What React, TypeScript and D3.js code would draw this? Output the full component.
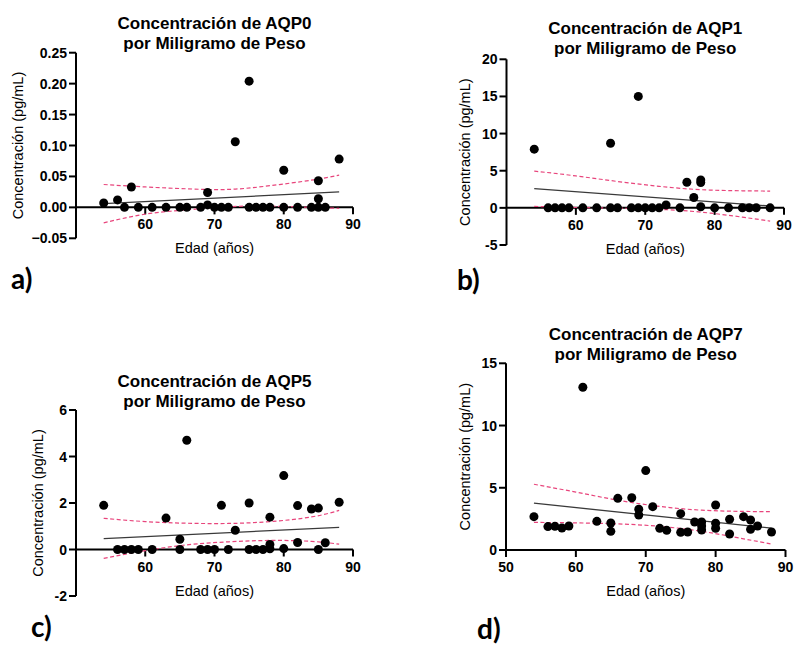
import React from "react";
import * as d3 from "d3";

// valores: edad (años) y concentración por mg de peso
const agesA = [54, 56, 57, 58, 59, 61, 63, 65, 66, 68, 69, 69, 70, 71, 72, 73, 75, 75, 76, 77, 78, 80, 80, 82, 84, 85, 85, 85, 86, 88];
const valuesA = [0.007, 0.012, 0, 0.033, 0, 0, 0, 0, 0, 0, 0.024, 0.004, 0, 0, 0, 0.106, 0.204, 0, 0, 0, 0, 0.06, 0, 0, 0, 0.043, 0.014, 0, 0, 0.078];

const agesB = [54, 56, 57, 58, 59, 61, 63, 65, 65, 66, 68, 69, 69, 70, 71, 72, 73, 75, 76, 77, 78, 78, 78, 80, 82, 84, 85, 86, 88];
const valuesB = [7.9, 0, 0, 0, 0, 0, 0, 8.7, 0, 0, 0, 15.0, 0, 0, 0, 0, 0.4, 0, 3.45, 1.4, 3.75, 3.4, 0.15, 0, 0, 0, 0, 0, 0];

const agesC = [54, 56, 57, 58, 59, 61, 63, 65, 65, 66, 68, 69, 70, 71, 72, 73, 75, 75, 76, 77, 78, 78, 78, 80, 80, 82, 82, 84, 85, 85, 86, 88];
const valuesC = [1.9, 0, 0, 0, 0, 0, 1.35, 0.44, 0, 4.7, 0, 0, 0, 1.9, 0, 0.83, 2.0, 0, 0, 0, 1.39, 0.22, 0.03, 3.18, 0.04, 1.89, 0.3, 1.74, 1.78, 0, 0.29, 2.03];

const agesD = [54, 56, 57, 58, 59, 61, 63, 65, 65, 66, 68, 69, 69, 70, 71, 72, 73, 75, 75, 76, 77, 78, 78, 78, 80, 80, 80, 82, 82, 84, 85, 85, 86, 88];
const valuesD = [2.68, 1.88, 1.9, 1.77, 1.93, 13.08, 2.3, 2.17, 1.5, 4.15, 4.2, 3.27, 2.81, 6.38, 3.48, 1.74, 1.58, 2.92, 1.42, 1.45, 2.25, 2.25, 1.93, 1.61, 3.62, 2.15, 1.75, 2.47, 1.29, 2.68, 2.41, 1.66, 1.93, 1.45];

// regresión lineal y banda de confianza (leídas)
const fitAges = [54, 88];
const fitA = [0.006, 0.025];
const fitB = [2.58, 0.25];
const fitC = [0.47, 0.95];
const fitD = [3.76, 1.76];

const bandAges = [54, 60, 66, 72, 78, 84, 88];
const upperA = [0.037, 0.033, 0.03, 0.029, 0.035, 0.044, 0.052];
const lowerA = [-0.025, -0.011, -0.004, 0.001, 0.002, 0.0, -0.0016];
const upperB = [4.95, 4.3, 3.55, 2.9, 2.45, 2.3, 2.26];
const lowerB = [0.2, 0.05, -0.03, -0.2, -0.57, -1.25, -1.78];
const upperC = [1.34, 1.2, 1.13, 1.12, 1.2, 1.4, 1.68];
const lowerC = [-0.38, -0.05, 0.2, 0.33, 0.39, 0.35, 0.23];
const upperD = [5.28, 4.65, 4.0, 3.5, 3.2, 3.1, 3.08];
const lowerD = [2.22, 2.18, 2.1, 1.9, 1.5, 0.9, 0.48];

const yTicksA = [-0.05, 0, 0.05, 0.1, 0.15, 0.2, 0.25];
const yTicksB = [-5, 0, 5, 10, 15, 20];
const yTicksC = [-2, 0, 2, 4, 6];
const yTicksD = [0, 5, 10, 15];
const xTicks = [60, 70, 80, 90];
const xTicksD = [50, 60, 70, 80, 90];

const titles = ["Concentración de AQP0", "Concentración de AQP1", "Concentración de AQP5", "Concentración de AQP7"];
const subtitle = "por Miligramo de Peso";
const letters = ["a)", "b)", "c)", "d)"];

const font = "'Liberation Sans', Arial, Helvetica, sans-serif";

type Box = { left: number; right: number; top: number; bottom: number };

type PanelProps = {
  box: Box;
  yDomain: [number, number];
  ages: number[];
  values: number[];
  fit: number[];
  upper: number[];
  lower: number[];
  yTicks: number[];
  xTicks: number[];
  yFormat: (v: number) => string;
  title: string;
  titleY: number;
  letter: string;
  letterPos: [number, number];
  yLabelOffset: number;
};

function Panel(p: PanelProps) {
  const { box } = p;
  const x = d3.scaleLinear().domain([50, 90]).range([box.left, box.right]);
  const y = d3.scaleLinear().domain(p.yDomain).range([box.bottom, box.top]);
  const zeroY = y(Math.max(0, p.yDomain[0]));
  const cx = (box.left + box.right) / 2;

  const straight = d3.line<[number, number]>().x((d) => x(d[0])).y((d) => y(d[1]));
  const smooth = d3
    .line<[number, number]>()
    .x((d) => x(d[0]))
    .y((d) => y(d[1]))
    .curve(d3.curveNatural);

  const fitPts = fitAges.map((a, i) => [a, p.fit[i]] as [number, number]);
  const upPts = bandAges.map((a, i) => [a, p.upper[i]] as [number, number]);
  const loPts = bandAges.map((a, i) => [a, p.lower[i]] as [number, number]);

  return (
    <g>
      {/* title */}
      <text x={cx} y={p.titleY} textAnchor="middle" fontFamily={font} fontWeight="bold" fontSize={17}>
        {p.title}
      </text>
      <text x={cx} y={p.titleY + 20} textAnchor="middle" fontFamily={font} fontWeight="bold" fontSize={17}>
        {subtitle}
      </text>

      {/* y axis */}
      <line x1={box.left} x2={box.left} y1={box.top} y2={box.bottom} stroke="#000" strokeWidth={2} />
      {p.yTicks.map((t) => (
        <g key={"y" + t}>
          <line x1={box.left - 7} x2={box.left} y1={y(t)} y2={y(t)} stroke="#000" strokeWidth={2} />
          <text x={box.left - 9} y={y(t)} dy="0.36em" textAnchor="end" fontFamily={font} fontWeight="bold" fontSize={14}>
            {p.yFormat(t)}
          </text>
        </g>
      ))}

      {/* x axis */}
      <line x1={box.left} x2={box.right} y1={zeroY} y2={zeroY} stroke="#000" strokeWidth={2} />
      {p.xTicks.map((t) => (
        <g key={"x" + t}>
          <line x1={x(t)} x2={x(t)} y1={zeroY} y2={zeroY + 7} stroke="#000" strokeWidth={2} />
          <text x={x(t)} y={zeroY + 22} textAnchor="middle" fontFamily={font} fontWeight="bold" fontSize={14}>
            {t}
          </text>
        </g>
      ))}

      {/* axis labels */}
      <text
        transform={`translate(${box.left - p.yLabelOffset},${(box.top + box.bottom) / 2}) rotate(-90)`}
        textAnchor="middle"
        fontFamily={font}
        fontSize={14.5}
      >
        Concentración (pg/mL)
      </text>
      <text x={cx} y={zeroY + 46} textAnchor="middle" fontFamily={font} fontSize={14.5}>
        Edad (años)
      </text>

      {/* confidence band + fit */}
      <path d={smooth(upPts) ?? ""} fill="none" stroke="#e8457c" strokeWidth={1.2} strokeDasharray="4 2.5" />
      <path d={smooth(loPts) ?? ""} fill="none" stroke="#e8457c" strokeWidth={1.2} strokeDasharray="4 2.5" />
      <path d={straight(fitPts) ?? ""} fill="none" stroke="#3a3a3a" strokeWidth={1.3} />

      {/* points */}
      {p.ages.map((a, i) => (
        <circle key={i} cx={x(a)} cy={y(p.values[i])} r={4.5} fill="#000" />
      ))}

      <text x={p.letterPos[0]} y={p.letterPos[1]} fontFamily="Lato, 'Open Sans', sans-serif" fontWeight="bold" fontSize={28}>
        {p.letter}
      </text>
    </g>
  );
}

const fmt2 = (v: number) => d3.format(".2f")(v);
const fmt0 = (v: number) => String(v);

export default function App() {
  return (
    <div style={{ position: "fixed", left: 0, top: 0 }}>
      <svg width={795} height={646} style={{ display: "block", background: "#fff" }}>
        <Panel
          box={{ left: 76, right: 353, top: 52.7, bottom: 238.3 }}
          yDomain={[-0.05, 0.25]}
          ages={agesA}
          values={valuesA}
          fit={fitA}
          upper={upperA}
          lower={lowerA}
          yTicks={yTicksA}
          xTicks={xTicks}
          yFormat={fmt2}
          title={titles[0]}
          titleY={29.3}
          letter={letters[0]}
          letterPos={[11, 289]}
          yLabelOffset={52.7}
        />
        <Panel
          box={{ left: 506.5, right: 784, top: 59.3, bottom: 245 }}
          yDomain={[-5, 20]}
          ages={agesB}
          values={valuesB}
          fit={fitB}
          upper={upperB}
          lower={lowerB}
          yTicks={yTicksB}
          xTicks={xTicks}
          yFormat={fmt0}
          title={titles[1]}
          titleY={34.3}
          letter={letters[1]}
          letterPos={[457, 290]}
          yLabelOffset={36.5}
        />
        <Panel
          box={{ left: 76, right: 353, top: 410, bottom: 596 }}
          yDomain={[-2, 6]}
          ages={agesC}
          values={valuesC}
          fit={fitC}
          upper={upperC}
          lower={lowerC}
          yTicks={yTicksC}
          xTicks={xTicks}
          yFormat={fmt0}
          title={titles[2]}
          titleY={386.7}
          letter={letters[2]}
          letterPos={[31, 637]}
          yLabelOffset={33}
        />
        <Panel
          box={{ left: 506, right: 785.5, top: 363.3, bottom: 550 }}
          yDomain={[0, 15]}
          ages={agesD}
          values={valuesD}
          fit={fitD}
          upper={upperD}
          lower={lowerD}
          yTicks={yTicksD}
          xTicks={xTicksD}
          yFormat={fmt0}
          title={titles[3]}
          titleY={340}
          letter={letters[3]}
          letterPos={[477, 639]}
          yLabelOffset={36}
        />
      </svg>
    </div>
  );
}
